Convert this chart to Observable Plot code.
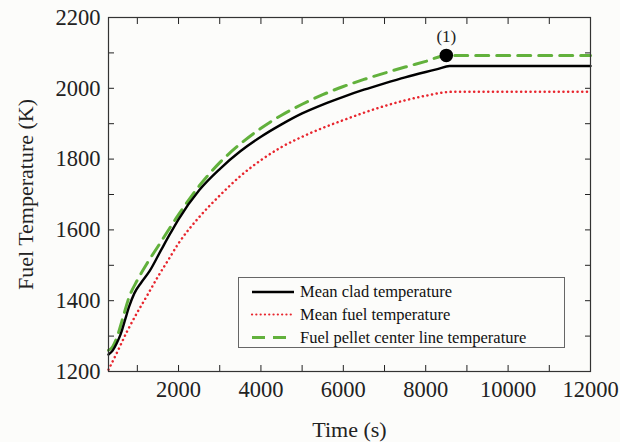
<!DOCTYPE html>
<html><head><meta charset="utf-8">
<script src="https://cdn.jsdelivr.net/npm/d3@7"></script>
<script src="https://cdn.jsdelivr.net/npm/@observablehq/plot@0.6"></script>
<style>
body{margin:0;background:#fcfcfa;}
#wrap{position:relative;width:620px;height:442px;}
#legend{position:absolute;left:0;top:0;pointer-events:none;}
</style></head><body><div id="wrap"></div>
<script>
// Mean clad temperature
const cladTime = [300, 400, 500, 600, 700, 800, 924, 1100, 1300, 1572, 1800, 2000, 2500, 3000, 3500, 4000, 4500, 5000, 5500, 6000, 6500, 7000, 7500, 8000, 8283, 8580, 12000];
const cladTemp = [1248, 1259, 1280, 1307, 1345, 1383, 1420, 1452, 1484, 1542, 1590, 1630, 1712, 1772, 1822, 1863, 1898, 1929, 1954, 1976, 1996, 2014, 2031, 2046, 2054, 2063, 2063];
// Mean fuel temperature
const fuelTime = [300, 500, 750, 1000, 1250, 1500, 1750, 2000, 2500, 3000, 3500, 4000, 4500, 5000, 5500, 6000, 6500, 7000, 7500, 8000, 8650, 12000];
const fuelTemp = [1205, 1252, 1313, 1367, 1417, 1468, 1515, 1562, 1636, 1697, 1752, 1797, 1834, 1863, 1888, 1910, 1931, 1950, 1966, 1979, 1990, 1990];
// Fuel pellet center line temperature
const centerTime = [300, 400, 500, 650, 800, 1000, 1250, 1500, 2000, 2500, 3000, 3500, 4000, 4500, 5000, 5500, 6000, 6500, 7000, 7500, 8000, 8500, 12000];
const centerTemp = [1260, 1270, 1295, 1352, 1410, 1458, 1508, 1553, 1643, 1724, 1790, 1843, 1887, 1924, 1955, 1982, 2005, 2025, 2043, 2060, 2076, 2093, 2093];
// Marker (1)
const markerTime = [8500];
const markerTemp = [2093];
const markerLabel = ["(1)"];

const xTicks = [1000,2000,3000,4000,5000,6000,7000,8000,9000,10000,11000,12000];
const yTicks = [1200,1300,1400,1500,1600,1700,1800,1900,2000,2100,2200];
const legendLabels = ["Mean clad temperature", "Mean fuel temperature", "Fuel pellet center line temperature"];

const colors = {clad: "#000000", fuel: "#e8262e", center: "#62b13c"};

const clad = cladTime.map((t,i)=>({t, v: cladTemp[i]}));
const fuel = fuelTime.map((t,i)=>({t, v: fuelTemp[i]}));
const center = centerTime.map((t,i)=>({t, v: centerTemp[i]}));
const marker = markerTime.map((t,i)=>({t, v: markerTemp[i], label: markerLabel[i]}));

const xFmt = d => d % 2000 === 0 ? String(d) : "";
const yFmt = d => d % 200 === 0 ? String(d) : "";

const chart = Plot.plot({
  width: 620, height: 442,
  marginLeft: 108, marginRight: 30, marginTop: 17, marginBottom: 71,
  style: {fontFamily: "'Liberation Serif', 'Times New Roman', serif", fontSize: "22px", background: "#fcfcfa", color: "#222"},
  x: {domain: [300, 12000]},
  y: {domain: [1200, 2200]},
  marks: [
    Plot.axisX(xTicks, {anchor: "bottom", tickSize: -6, tickPadding: 16, tickFormat: xFmt, label: null, fontSize: 22.5}),
    Plot.axisX(xTicks, {anchor: "top", tickSize: -6, tickFormat: () => "", label: null}),
    Plot.axisY(yTicks, {anchor: "left", tickSize: -6, tickPadding: 14, tickFormat: yFmt, label: null, fontSize: 22.5}),
    Plot.axisY(yTicks, {anchor: "right", tickSize: -6, tickFormat: () => "", label: null}),
    Plot.line(fuel, {x: "t", y: "v", stroke: colors.fuel, strokeWidth: 2.5, strokeDasharray: "0.1,4.6", strokeLinecap: "round", curve: "monotone-x"}),
    Plot.line(center, {x: "t", y: "v", stroke: colors.center, strokeWidth: 3, strokeDasharray: "13,8", curve: "monotone-x"}),
    Plot.line(clad, {x: "t", y: "v", stroke: colors.clad, strokeWidth: 2.4, curve: "monotone-x"}),
    Plot.dot(marker, {x: "t", y: "v", r: 6, fill: "#000", stroke: "#000"}),
    Plot.text(marker, {x: "t", y: "v", text: "label", dy: -19, fontSize: 17, fill: "#222"}),
    Plot.frame({stroke: "#333", strokeWidth: 1.2}),
    Plot.text(["Time (s)"], {frameAnchor: "bottom", dy: 58, lineAnchor: "middle", fontSize: 22, fill: "#222"}),
    Plot.text(["Fuel Temperature (K)"], {frameAnchor: "left", dx: -83, rotate: -90, lineAnchor: "middle", textAnchor: "middle", fontSize: 22, fill: "#222"})
  ]
});

const wrap = document.getElementById("wrap");
wrap.appendChild(chart);

// Legend overlay
const leg = d3.select(wrap).append("svg").attr("id","legend").attr("width",620).attr("height",442);
leg.append("rect").attr("x",238.5).attr("y",277.5).attr("width",326).attr("height",70)
  .attr("fill","#fcfcfa").attr("stroke","#666").attr("stroke-width",1);
const rows = [
  {label: legendLabels[0], color: colors.clad, w: 2.4, dash: null, cap: "butt"},
  {label: legendLabels[1], color: colors.fuel, w: 2.2, dash: "0.1,4.2", cap: "round"},
  {label: legendLabels[2], color: colors.center, w: 3, dash: "13,8", cap: "butt"}
];
const rowY = [292, 314.5, 337.5];
rows.forEach((r,i)=>{
  const y = rowY[i];
  const ln = leg.append("line").attr("x1",252).attr("x2",294).attr("y1",y).attr("y2",y)
    .attr("stroke",r.color).attr("stroke-width",r.w).attr("stroke-linecap",r.cap);
  if (r.dash) ln.attr("stroke-dasharray", r.dash);
  leg.append("text").attr("x",300).attr("y",y).attr("dy","0.33em")
    .attr("font-family","'Liberation Serif', serif").attr("font-size",16.5).attr("fill","#111")
    .text(r.label);
});
</script>
</body></html>
